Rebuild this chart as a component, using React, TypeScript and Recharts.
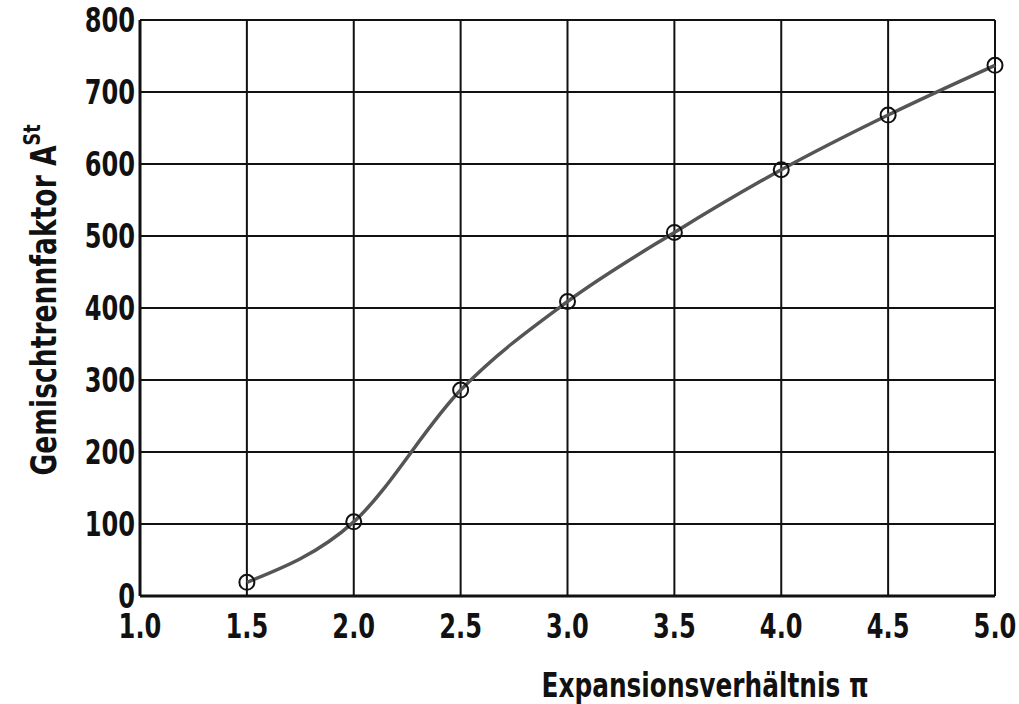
import React from 'react';
import { LineChart, Line, XAxis, YAxis, CartesianGrid } from 'recharts';

// Expansionsverhältnis π und Gemischtrennfaktor A^St
const pi = [1.5, 2.0, 2.5, 3.0, 3.5, 4.0, 4.5, 5.0];
const faktor = [19, 103, 286, 409, 505, 592, 668, 737];
const xTicks = [1.0, 1.5, 2.0, 2.5, 3.0, 3.5, 4.0, 4.5, 5.0];
const yTicks = [0, 100, 200, 300, 400, 500, 600, 700, 800];

const FONT = '"DejaVu Sans", sans-serif';
const SQUEEZE = 0.71; // schmale Schrift nachbilden

const data = pi.map((p, i) => ({ pi: p, a: faktor[i] }));

function XTick(props: any) {
  const { x, y, payload } = props;
  return (
    <text
      transform={`translate(${x}, ${y + 34}) scale(${SQUEEZE}, 1)`}
      textAnchor="middle"
      fontFamily={FONT}
      fontWeight="bold"
      fontSize={34}
      fill="#111"
    >
      {Number(payload.value).toFixed(1)}
    </text>
  );
}

function YTick(props: any) {
  const { x, y, payload } = props;
  return (
    <text
      transform={`translate(${x + 3}, ${y + 12}) scale(${SQUEEZE}, 1)`}
      textAnchor="end"
      fontFamily={FONT}
      fontWeight="bold"
      fontSize={34}
      fill="#111"
    >
      {payload.value}
    </text>
  );
}

function YLabel(props: any) {
  const vb = props.viewBox || {};
  const cx = 56;
  const cy = (vb.y ?? 0) + (vb.height ?? 0) / 2 - 8;
  return (
    <text
      transform={`translate(${cx}, ${cy}) rotate(-90) scale(0.76, 1)`}
      textAnchor="middle"
      fontFamily={FONT}
      fontWeight="bold"
      fontSize={35}
      fill="#111"
    >
      Gemischtrennfaktor A
      <tspan fontSize={23} dy={-16}>St</tspan>
    </text>
  );
}

function XLabel() {
  return (
    <text
      transform={`translate(705, 697) scale(0.73, 1)`}
      textAnchor="middle"
      fontFamily={FONT}
      fontWeight="bold"
      fontSize={34}
      fill="#111"
    >
      Expansionsverhältnis π
    </text>
  );
}

const Ring = (props: any) => {
  const { cx, cy, index } = props;
  return <circle key={index} cx={cx} cy={cy} r={7.5} fill="none" stroke="#111" strokeWidth={2} />;
};

export default function App() {
  return (
    <div style={{ position: 'absolute', left: 0, top: 0, background: '#fff' }}>
      <LineChart
        width={1019}
        height={704}
        data={data}
        margin={{ top: 20, right: 24, left: 0, bottom: 0 }}
      >
        <CartesianGrid stroke="#111" strokeWidth={2} />
        <XAxis
          dataKey="pi"
          type="number"
          domain={[1, 5]}
          ticks={xTicks}
          axisLine={{ stroke: '#111', strokeWidth: 3 }}
          tickLine={false}
          tick={<XTick />}
          height={108}
          label={<XLabel />}
        />
        <YAxis
          type="number"
          domain={[0, 800]}
          ticks={yTicks}
          axisLine={{ stroke: '#111', strokeWidth: 3 }}
          tickLine={false}
          tick={<YTick />}
          width={140}
          label={<YLabel />}
        />
        <Line
          type="monotone"
          dataKey="a"
          stroke="#555"
          strokeWidth={3.5}
          dot={<Ring />}
          isAnimationActive={false}
        />
      </LineChart>
    </div>
  );
}
